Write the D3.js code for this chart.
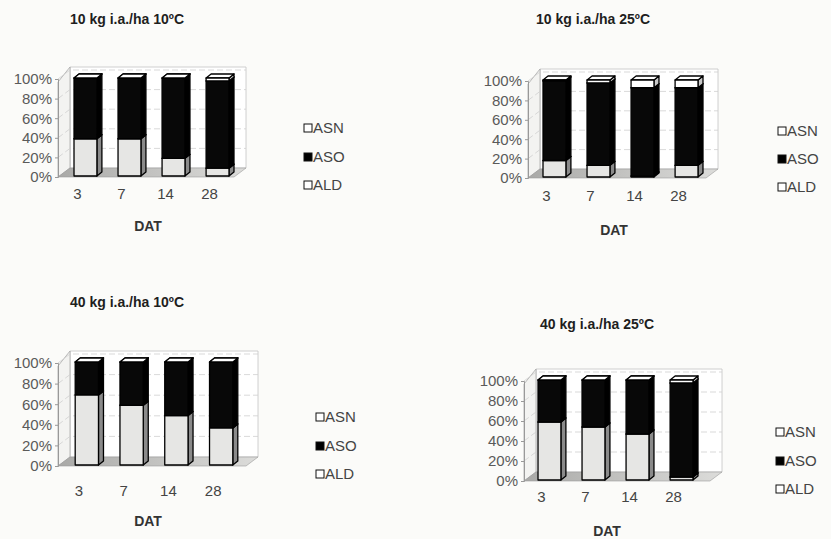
<!DOCTYPE html>
<html>
<head>
<meta charset="utf-8">
<script src="https://cdn.jsdelivr.net/npm/d3@7"></script>
<style>
	body { margin: 0; background: #fbfbf9; }
	svg { display: block; font-family: "Liberation Sans", Arial, sans-serif; }
</style>
</head>
<body>
<svg id="chart" width="831" height="539"></svg>
<script>
// Categories and series
const days = ['3', '7', '14', '28'];
const seriesNames = ['ASN', 'ASO', 'ALD'];
const yTicks = [0, 20, 40, 60, 80, 100];
const titles = ['10 kg i.a./ha 10ºC', '10 kg i.a./ha 25ºC', '40 kg i.a./ha 10ºC', '40 kg i.a./ha 25ºC'];

// Values (% of total)
const ald10_10 = [38, 38, 18, 8];
const aso10_10 = [62, 62, 82, 89];
const asn10_10 = [0, 0, 0, 3];

const ald10_25 = [17, 12, 1, 12];
const aso10_25 = [82, 85, 91, 80];
const asn10_25 = [1, 3, 8, 8];

const ald40_10 = [68, 58, 48, 36];
const aso40_10 = [32, 42, 52, 64];
const asn40_10 = [0, 0, 0, 0];

const ald40_25 = [58, 53, 46, 3];
const aso40_25 = [42, 47, 54, 94];
const asn40_25 = [0, 0, 0, 3];

const panelData = [
	{ ALD: ald10_10, ASO: aso10_10, ASN: asn10_10 },
	{ ALD: ald10_25, ASO: aso10_25, ASN: asn10_25 },
	{ ALD: ald40_10, ASO: aso40_10, ASN: asn40_10 },
	{ ALD: ald40_25, ASO: aso40_25, ASN: asn40_25 }
];

// Layout of each panel (front plane of the 3d box)
const layout = [
	{ ax: 58, right: 234, y0: 177, y100: 79, bx: [63, 240], tx: 127, ty: 24, labY: 196, datX: 148, datY: 231, legX: 304, legY: [128, 157, 185] },
	{ ax: 528, right: 706, y0: 178, y100: 81, bx: [532, 709], tx: 593, ty: 24, labY: 198, datX: 614, datY: 235, legX: 778, legY: [131, 159, 187] },
	{ ax: 58, right: 246, y0: 466, y100: 363, bx: [64, 244], tx: 127, ty: 307, labY: 493, datX: 148, datY: 526, legX: 316, legY: [417, 446, 474] },
	{ ax: 524, right: 710, y0: 481, y100: 381, bx: [527, 704], tx: 597, ty: 329, labY: 499, datX: 607, datY: 536, legX: 776, legY: [432, 461, 489] }
];

const fill = { ALD: '#e6e6e4', ASO: '#080808', ASN: '#ffffff' };
const side = { ALD: '#8a8a8a', ASO: '#000000', ASN: '#c8c8c8' };

const svg = d3.select('#chart');

const defs = svg.append('defs');
let grad = defs.append('linearGradient').attr('id', 'floor').attr('x1', 0).attr('x2', 1).attr('y1', 0).attr('y2', 0);
grad.append('stop').attr('offset', '0%').attr('stop-color', '#a9a9a7');
grad.append('stop').attr('offset', '100%').attr('stop-color', '#dcdcda');

const line = d3.line();

const drawPanel = (i) => {
	let L = layout[i];
	let d = panelData[i];
	let g = svg.append('g');
	// depth of the floor box and of the bars
	let fdx = 12, fdy = -9;
	let bdx = 5, bdy = -4;

	let y = d3.scaleLinear().domain([0, 100]).range([L.y0, L.y100]);
	let x = d3.scaleBand().domain(days).range(L.bx).paddingInner(0.48).paddingOuter(0.25);

	// back wall
	g.append('path')
		.attr('d', line([[L.ax + fdx, L.y0 + fdy], [L.ax + fdx, L.y100 + fdy - 3], [L.right + fdx, L.y100 + fdy - 3], [L.right + fdx, L.y0 + fdy]]) + 'Z')
		.attr('fill', '#ffffff').attr('stroke', '#c4c4c4').attr('stroke-width', 0.8);
	// left wall
	g.append('path')
		.attr('d', line([[L.ax, L.y0], [L.ax, L.y100 + 3], [L.ax + fdx, L.y100 + fdy - 3], [L.ax + fdx, L.y0 + fdy]]) + 'Z')
		.attr('fill', '#f3f3f1').attr('stroke', '#a8a8a8').attr('stroke-width', 0.8);

	// gridlines on the walls
	g.append('g').selectAll('path')
		.data(yTicks.filter(t => t > 0))
		.enter()
		.append('path')
		.attr('d', t => line([[L.ax, y(t)], [L.ax + fdx, y(t) + fdy], [L.right + fdx, y(t) + fdy]]))
		.attr('fill', 'none')
		.attr('stroke', '#cfcfcf')
		.attr('stroke-width', 0.8)
		.attr('stroke-dasharray', '6,3');

	// floor
	g.append('path')
		.attr('d', line([[L.ax, L.y0], [L.right, L.y0], [L.right + fdx, L.y0 + fdy], [L.ax + fdx, L.y0 + fdy]]) + 'Z')
		.attr('fill', 'url(#floor)').attr('stroke', '#9a9a9a').attr('stroke-width', 0.6);

	// y axis
	let yAxis = g.append('g')
		.attr('transform', `translate(${L.ax},0)`)
		.call(d3.axisLeft(y).tickValues(yTicks).tickFormat(t => t + '%').tickSize(3).tickPadding(3));
	yAxis.select('.domain').attr('stroke', '#999');
	yAxis.selectAll('.tick line').attr('stroke', '#999');
	yAxis.selectAll('text').attr('font-size', 15).attr('fill', '#5a5a5a').attr('font-family', '"Liberation Sans", Arial, sans-serif');

	// stacked 3d bars
	let stack = d3.stack().keys(['ALD', 'ASO', 'ASN']);
	let rows = days.map((day, j) => ({ day: day, ALD: d.ALD[j], ASO: d.ASO[j], ASN: d.ASN[j] }));
	let layers = stack(rows);
	let w = x.bandwidth();
	let bars = g.append('g').attr('stroke', '#000').attr('stroke-width', 1.3).attr('stroke-linejoin', 'round');
	days.forEach((day, j) => {
		let x0 = x(day);
		layers.forEach((layer) => {
			let key = layer.key;
			let lo = y(layer[j][0]) - 1, hi = y(layer[j][1]) - 1;
			let seg = bars.append('g');
			// side face
			seg.append('path')
				.attr('d', line([[x0 + w, lo], [x0 + w, hi], [x0 + w + bdx, hi + bdy], [x0 + w + bdx, lo + bdy]]) + 'Z')
				.attr('fill', side[key]);
			// top face
			seg.append('path')
				.attr('d', line([[x0, hi], [x0 + w, hi], [x0 + w + bdx, hi + bdy], [x0 + bdx, hi + bdy]]) + 'Z')
				.attr('fill', fill[key]);
			// front face
			if (lo - hi > 0) {
				seg.append('rect')
					.attr('x', x0).attr('y', hi)
					.attr('width', w).attr('height', lo - hi)
					.attr('fill', fill[key]);
			}
		});
	});

	// x axis labels, set slightly to the front of the bars
	let xl = x.copy().range([L.bx[0] - 8, L.bx[1] - 8]);
	let xAxis = g.append('g')
		.attr('transform', `translate(0,${L.labY - 8})`)
		.call(d3.axisBottom(xl).tickSize(0).tickPadding(0));
	xAxis.select('.domain').remove();
	xAxis.selectAll('text').attr('font-size', 15).attr('fill', '#444').attr('dy', '0.71em');

	g.append('text')
		.attr('x', L.datX).attr('y', L.datY)
		.attr('text-anchor', 'middle')
		.attr('font-size', 14).attr('font-weight', 'bold').attr('fill', '#333')
		.text('DAT');

	// title
	g.append('text')
		.attr('x', L.tx).attr('y', L.ty)
		.attr('text-anchor', 'middle')
		.attr('font-size', 14).attr('font-weight', 'bold').attr('fill', '#1e1e1e')
		.text(titles[i]);

	// legend
	let leg = g.append('g').selectAll('g')
		.data(seriesNames)
		.enter()
		.append('g')
		.attr('transform', (s, k) => `translate(${L.legX},${L.legY[k]})`);
	leg.append('rect')
		.attr('x', 0).attr('y', -4).attr('width', 8).attr('height', 8)
		.attr('fill', s => s === 'ASO' ? '#000' : '#fff')
		.attr('stroke', '#111').attr('stroke-width', 1);
	leg.append('text')
		.attr('x', 9).attr('y', 0).attr('dy', '0.35em')
		.attr('font-size', 15).attr('fill', '#444')
		.text(s => s);
};

for (let i = 0; i < 4; i++) {
	drawPanel(i);
}
</script>
</body>
</html>
